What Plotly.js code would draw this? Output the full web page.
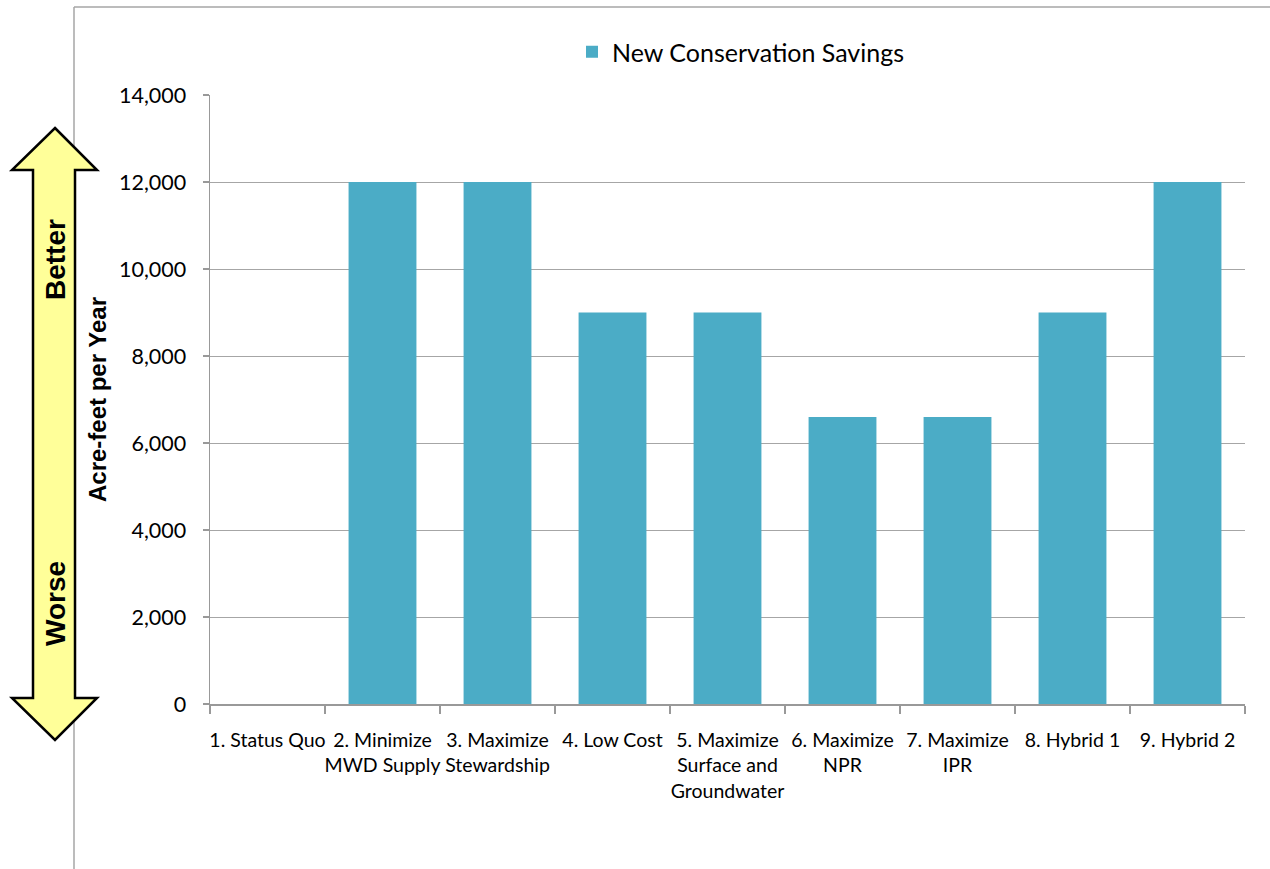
<!DOCTYPE html>
<html>
<head>
<meta charset="utf-8">
<script src="https://cdn.plot.ly/plotly-3.0.1.min.js"></script>
<style>
  html, body { margin: 0; padding: 0; background: #ffffff; }
  #chart { width: 1270px; height: 869px; }
</style>
</head>
<body>
<div id="chart"></div>
<script>
var categories = [
  "1. Status Quo",
  "2. Minimize<br>MWD Supply",
  "3. Maximize<br>Stewardship",
  "4. Low Cost",
  "5. Maximize<br>Surface and<br>Groundwater",
  "6. Maximize<br>NPR",
  "7. Maximize<br>IPR",
  "8. Hybrid 1",
  "9. Hybrid 2"
];
var savings = [0, 12000, 12000, 9000, 9000, 6600, 6600, 9000, 12000];
var yTickVals = [0, 2000, 4000, 6000, 8000, 10000, 12000, 14000];
var yTickText = ["0", "2,000", "4,000", "6,000", "8,000", "10,000", "12,000", "14,000"];
var seriesName = "New Conservation Savings";
var yTitle = "Acre-feet per Year";

// plot area in pixels
var L = 210, R = 1245, T = 95, B = 704;
function px(x) { return (x - L) / (R - L); }
function py(y) { return (B - y) / (B - T); }

var arrowPts = [
  [55, 128], [97, 170], [75, 170], [75, 698], [97, 698], [55, 740],
  [12, 698], [33, 698], [33, 170], [12, 170]
];
var arrowPath = arrowPts.map(function (p, i) {
  return (i === 0 ? "M" : "L") + px(p[0]).toFixed(5) + "," + py(p[1]).toFixed(5);
}).join(" ") + " Z";

var trace = {
  type: "bar",
  x: categories,
  y: savings,
  name: seriesName,
  marker: { color: "#4BACC6", line: { width: 0 } },
  showlegend: true,
  hoverinfo: "x+y"
};

var layout = {
  width: 1270,
  height: 869,
  margin: { l: L, r: 1270 - R, t: T, b: 869 - B },
  paper_bgcolor: "#ffffff",
  plot_bgcolor: "#ffffff",
  font: { family: "Lato, Open Sans, sans-serif", size: 19, color: "#000000" },
  bargap: 0.41,
  showlegend: true,
  legend: {
    orientation: "h",
    x: px(572), xanchor: "left",
    y: py(52), yanchor: "middle",
    font: { size: 25, color: "#000000" },
    bgcolor: "rgba(0,0,0,0)"
  },
  xaxis: {
    type: "category",
    showgrid: false,
    showline: true,
    linecolor: "#999999",
    linewidth: 1.5,
    ticks: "outside",
    tickson: "boundaries",
    ticklen: 8,
    tickcolor: "#999999",
    tickwidth: 1.5,
    tickangle: 0,
    ticklabelstandoff: 18,
    tickfont: { size: 19.5 },
    fixedrange: true
  },
  yaxis: {
    range: [0, 14000],
    tickvals: yTickVals,
    ticktext: yTickText,
    showgrid: true,
    gridcolor: "#a6a6a6",
    gridwidth: 1,
    showline: true,
    linecolor: "#999999",
    linewidth: 1.5,
    ticks: "outside",
    ticklen: 6,
    tickcolor: "#999999",
    tickwidth: 1.5,
    ticklabelstandoff: 12,
    tickfont: { size: 21.5 },
    zeroline: false,
    title: {
      text: "<b>" + yTitle + "</b>",
      font: { family: "Liberation Sans, Arial, sans-serif", size: 24 },
      standoff: 5
    },
    fixedrange: true
  },
  shapes: [
    { type: "line", xref: "paper", yref: "paper",
      x0: px(74), x1: px(74), y0: py(7), y1: py(869),
      line: { color: "#a6a6a6", width: 1.5 } },
    { type: "line", xref: "paper", yref: "paper",
      x0: px(74), x1: px(1270), y0: py(7), y1: py(7),
      line: { color: "#a6a6a6", width: 1.5 } },
    { type: "path", xref: "paper", yref: "paper",
      path: arrowPath,
      fillcolor: "#FFFF99",
      line: { color: "#000000", width: 2.5 } }
  ],
  annotations: [
    { xref: "paper", yref: "paper", x: px(55), y: py(260),
      xanchor: "center", yanchor: "middle",
      text: "<b>Better</b>", showarrow: false, textangle: -90,
      font: { family: "Liberation Sans, Arial, sans-serif", size: 28, color: "#000000" } },
    { xref: "paper", yref: "paper", x: px(55), y: py(604),
      xanchor: "center", yanchor: "middle",
      text: "<b>Worse</b>", showarrow: false, textangle: -90,
      font: { family: "Liberation Sans, Arial, sans-serif", size: 28, color: "#000000" } }
  ]
};

Plotly.newPlot("chart", [trace], layout, { displayModeBar: false, staticPlot: true });
</script>
</body>
</html>
